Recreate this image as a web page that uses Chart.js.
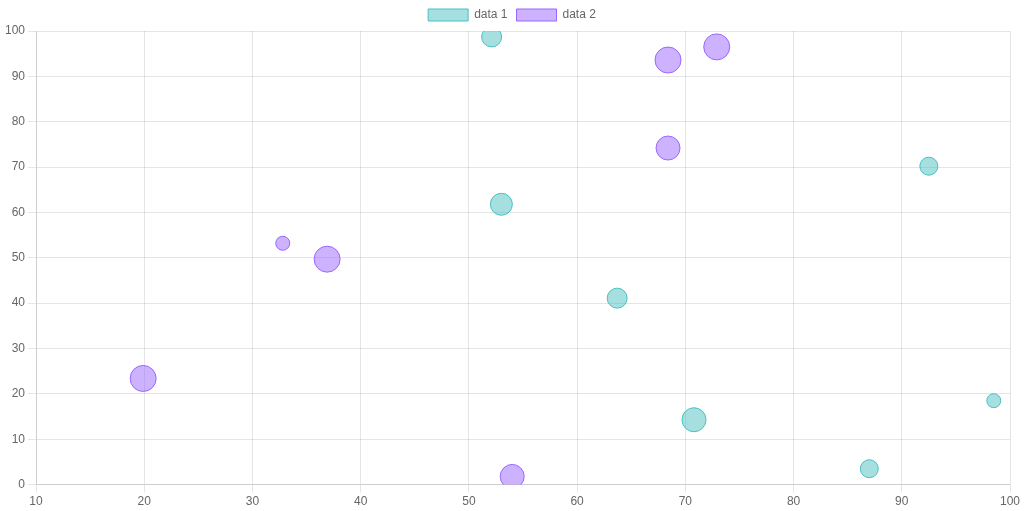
<!DOCTYPE html>
<html>
<head>
<meta charset="utf-8">
<script src="https://cdn.jsdelivr.net/npm/chart.js@4/dist/chart.umd.min.js"></script>
<style>
  html, body { margin: 0; padding: 0; background: #fff; }
  #wrap { width: 1024px; height: 511px; }
</style>
</head>
<body>
<div id="wrap"><canvas id="myChart"></canvas></div>
<script>
var seriesNames = ['data 1', 'data 2'];

var data1X = [52.1, 53.0, 92.5, 63.7, 70.8, 98.5, 87.0];
var data1Y = [98.7, 61.8, 70.2, 41.1, 14.3, 18.5, 3.5];
var data1R = [10, 11, 9, 10, 12, 7, 9];

var data2X = [68.4, 72.9, 68.4, 32.8, 36.9, 19.9, 54.0];
var data2Y = [93.6, 96.5, 74.2, 53.2, 49.7, 23.4, 1.8];
var data2R = [13, 13, 12, 7, 13, 13, 12];

function points(xs, ys, rs) {
    var out = [];
    for (var i = 0; i < xs.length; i++) {
        out.push({ x: xs[i], y: ys[i], r: rs[i] });
    }
    return out;
}

Chart.defaults.font.family = "'Liberation Sans', Arial, sans-serif";
Chart.defaults.color = '#666';

var ctx = document.getElementById('myChart');
var myChart = new Chart(ctx, {
    type: 'bubble',
    data: {
        datasets: [{
            label: seriesNames[0],
            data: points(data1X, data1Y, data1R),
            backgroundColor: 'rgba(75, 192, 192, 0.5)',
            borderColor: 'rgb(75, 192, 192)',
            borderWidth: 1
        }, {
            label: seriesNames[1],
            data: points(data2X, data2Y, data2R),
            backgroundColor: 'rgba(153, 102, 255, 0.5)',
            borderColor: 'rgb(153, 102, 255)',
            borderWidth: 1
        }]
    },
    options: {
        responsive: true,
        maintainAspectRatio: false,
        animation: false,
        layout: { padding: { left: 2, right: 2 } },
        plugins: {
            legend: { position: 'top', labels: { padding: 9 } },
            tooltip: { enabled: false }
        },
        scales: {
            x: { min: 10, max: 100, ticks: { stepSize: 10, padding: 2 } },
            y: { min: 0, max: 100, ticks: { stepSize: 10 } }
        }
    }
});
</script>
</body>
</html>
